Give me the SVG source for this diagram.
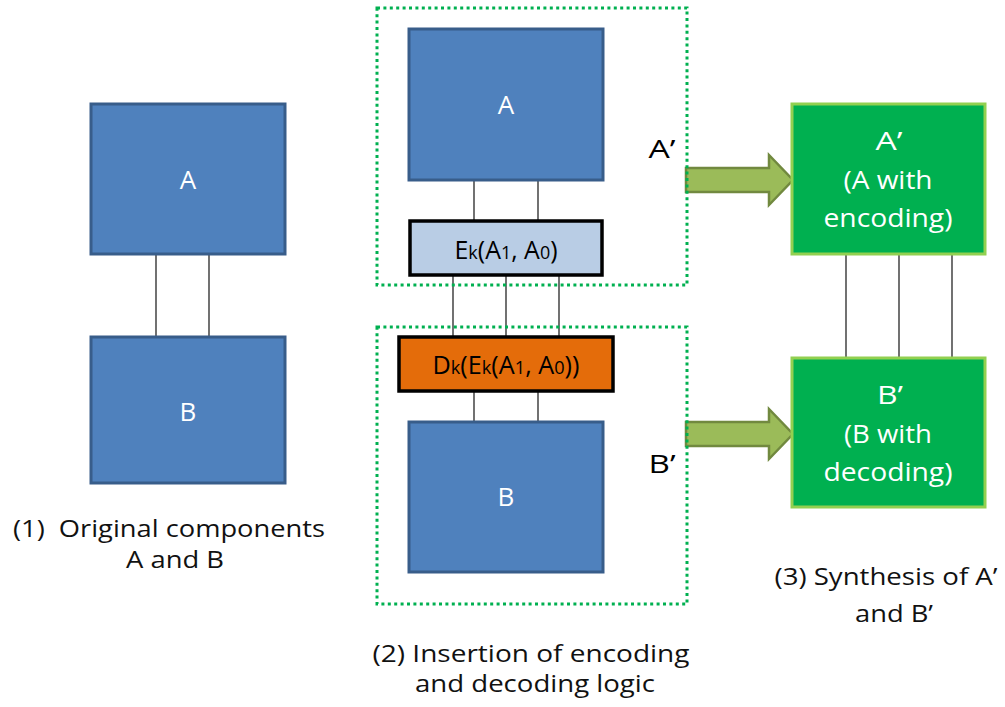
<svg xmlns="http://www.w3.org/2000/svg" width="1005" height="707" viewBox="0 0 1005 707">
<style>
.blue{fill:#4f81bd;stroke:#385d8a;stroke-width:3}
.green{fill:#00b050;stroke:#92d050;stroke-width:3}
.dot{fill:none;stroke:#00b050;stroke-width:3;stroke-dasharray:3 3.4}
.wire{stroke:#262626;stroke-width:1.3;fill:none}
.arrow{fill:#9bbb59;stroke:#71893f;stroke-width:2.5}
.wt{font-family:"Open Sans",Lato,sans-serif;fill:#fff;font-size:26px;text-anchor:middle}
.bt{font-family:"Open Sans",Lato,sans-serif;fill:#000;font-size:25px;text-anchor:middle}
.lbl{font-family:"Open Sans",Lato,sans-serif;fill:#111;font-size:23.5px;text-anchor:middle}
.sub{font-size:18px}
</style>
<rect width="1005" height="707" fill="#fff"/>
<g id="connectors">
<line class="wire" x1="156" y1="254" x2="156" y2="337"/>
<line class="wire" x1="209" y1="254" x2="209" y2="337"/>
<line class="wire" x1="474" y1="180" x2="474" y2="221"/>
<line class="wire" x1="538" y1="180" x2="538" y2="221"/>
<line class="wire" x1="453" y1="275" x2="453" y2="337"/>
<line class="wire" x1="506" y1="275" x2="506" y2="337"/>
<line class="wire" x1="559" y1="275" x2="559" y2="337"/>
<line class="wire" x1="474" y1="391" x2="474" y2="422"/>
<line class="wire" x1="538" y1="391" x2="538" y2="422"/>
<line class="wire" x1="846" y1="254" x2="846" y2="358"/>
<line class="wire" x1="899" y1="254" x2="899" y2="358"/>
<line class="wire" x1="952" y1="254" x2="952" y2="358"/>
<path id="arrowA" class="arrow" d="M686,168 H769 V155 L793,180 L769,205 V192 H686 Z"/>
<path id="arrowB" class="arrow" d="M686,422 H769 V409 L793,434 L769,459 V446 H686 Z"/>
</g>
<g id="groupA2">
<rect class="dot" x="377" y="8" width="310" height="277"/>
<text class="bt" x="662" y="158" textLength="27" lengthAdjust="spacingAndGlyphs">A’</text>
</g>
<g id="groupB2">
<rect class="dot" x="377" y="327" width="310" height="277"/>
<text class="bt" x="662" y="473" textLength="27" lengthAdjust="spacingAndGlyphs">B’</text>
</g>
<g id="A1"><rect class="blue" x="91" y="104" width="194" height="150"/><text class="wt" x="188" y="189">A</text></g>
<g id="B1"><rect class="blue" x="91" y="337" width="194" height="146"/><text class="wt" x="188" y="421">B</text></g>
<g id="A2"><rect class="blue" x="409" y="29" width="194" height="151"/><text class="wt" x="506" y="114">A</text></g>
<g id="Ek"><rect x="410" y="221" width="192" height="54" fill="#b9cde5" stroke="#000" stroke-width="3.5"/>
<text class="bt" x="506" y="259" textLength="103" lengthAdjust="spacingAndGlyphs">E<tspan class="sub">k</tspan>(A<tspan class="sub">1</tspan>, A<tspan class="sub">0</tspan>)</text></g>
<g id="Dk"><rect x="399" y="337" width="214" height="54" fill="#e46c0a" stroke="#000" stroke-width="3.5"/>
<text class="bt" x="506" y="374" fill="#1a1a1a" textLength="147" lengthAdjust="spacingAndGlyphs">D<tspan class="sub">k</tspan>(E<tspan class="sub">k</tspan>(A<tspan class="sub">1</tspan>, A<tspan class="sub">0</tspan>))</text></g>
<g id="B2"><rect class="blue" x="409" y="422" width="194" height="150"/><text class="wt" x="506" y="506">B</text></g>
<g id="A3"><rect class="green" x="792" y="104" width="193" height="150"/>
<text class="wt" x="889" y="150" textLength="27" lengthAdjust="spacingAndGlyphs">A’</text>
<text class="wt" x="888" y="189" textLength="89" lengthAdjust="spacingAndGlyphs">(A with</text>
<text class="wt" x="888" y="227" textLength="129" lengthAdjust="spacingAndGlyphs">encoding)</text></g>
<g id="B3"><rect class="green" x="792" y="358" width="193" height="149"/>
<text class="wt" x="890" y="404" textLength="26" lengthAdjust="spacingAndGlyphs">B’</text>
<text class="wt" x="888" y="443" textLength="88" lengthAdjust="spacingAndGlyphs">(B with</text>
<text class="wt" x="888" y="481" textLength="129" lengthAdjust="spacingAndGlyphs">decoding)</text></g>
<g id="captions">
<text class="lbl" x="169" y="537" xml:space="preserve" textLength="312" lengthAdjust="spacingAndGlyphs">(1)  Original components</text>
<text class="lbl" x="175" y="568" textLength="98" lengthAdjust="spacingAndGlyphs">A and B</text>
<text class="lbl" x="531" y="662" textLength="317" lengthAdjust="spacingAndGlyphs">(2) Insertion of encoding</text>
<text class="lbl" x="535" y="692" textLength="240" lengthAdjust="spacingAndGlyphs">and decoding logic</text>
<text class="lbl" x="886" y="585" textLength="223" lengthAdjust="spacingAndGlyphs">(3) Synthesis of A’</text>
<text class="lbl" x="894" y="622" textLength="78" lengthAdjust="spacingAndGlyphs">and B’</text>
</g>
</svg>
